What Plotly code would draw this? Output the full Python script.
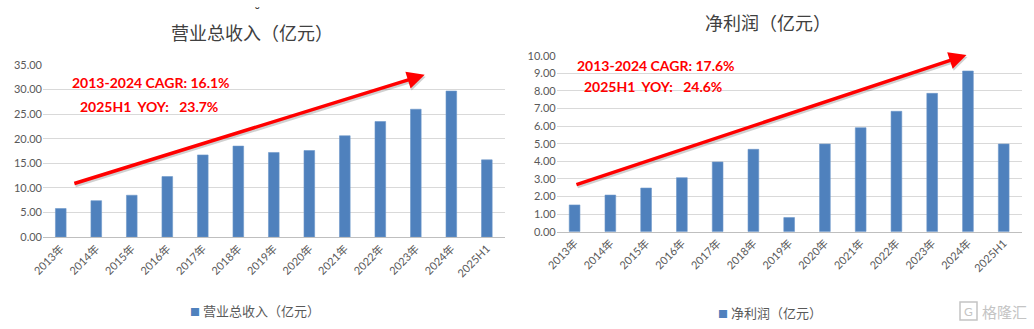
import plotly.graph_objects as go

# ---- data ----
years = ["2013年", "2014年", "2015年", "2016年", "2017年", "2018年", "2019年",
         "2020年", "2021年", "2022年", "2023年", "2024年", "2025H1"]
revenue = [5.8, 7.4, 8.5, 12.3, 16.7, 18.5, 17.2, 17.6, 20.6, 23.5, 26.0, 29.7, 15.7]
net_profit = [1.52, 2.08, 2.48, 3.07, 3.96, 4.68, 0.80, 4.98, 5.91, 6.84, 7.86, 9.13, 4.98]

rev_title = "营业总收入（亿元）"
np_title = "净利润（亿元）"
rev_notes = ["2013-2024 CAGR: 16.1%", "2025H1  YOY:   23.7%"]
np_notes = ["2013-2024 CAGR: 17.6%", "2025H1  YOY:   24.6%"]

BAR = "#4f81bd"
GRID = "#d9d9d9"
TXT = "#595959"
CJK = "Noto Sans CJK SC"
NUM = "Lato, Noto Sans CJK SC"

fig = go.Figure()
fig.add_trace(go.Bar(x=years, y=revenue, marker=dict(color=BAR, line=dict(color="#6d97c9", width=0.6)),
                     xaxis="x", yaxis="y", showlegend=False))
fig.add_trace(go.Bar(x=years, y=net_profit, marker=dict(color=BAR, line=dict(color="#6d97c9", width=0.6)),
                     xaxis="x2", yaxis="y2", showlegend=False))

xcommon = dict(tickangle=-45, tickfont=dict(family=NUM, size=11, color=TXT),
               showgrid=False, showline=True, linecolor="#bfbfbf", linewidth=1,
               ticks="", fixedrange=True, automargin=False)
ycommon = dict(tickformat=".2f", tickfont=dict(family=NUM, size=11, color=TXT),
               showgrid=True, gridcolor=GRID, gridwidth=1, zeroline=False,
               showline=False, ticks="", fixedrange=True, automargin=False)

fig.update_layout(
    width=1034, height=329,
    margin=dict(l=0, r=0, t=0, b=0, autoexpand=False),
    paper_bgcolor="white", plot_bgcolor="white",
    bargap=0.7,
    xaxis=dict(domain=[0.0416, 0.488], anchor="y", **xcommon),
    yaxis=dict(domain=[0.2796, 0.8024], range=[0, 35], dtick=5, anchor="x", **ycommon),
    xaxis2=dict(domain=[0.5384, 0.988], anchor="y2", **xcommon),
    yaxis2=dict(domain=[0.2958, 0.8307], range=[0, 10], dtick=1, anchor="x2", **ycommon),
)

ann = []
# chart titles
ann.append(dict(text=rev_title, x=252, y=329 - 32, xref="paper", yref="paper"))
ann.append(dict(text=np_title, x=768, y=329 - 22, xref="paper", yref="paper"))
for a in ann:
    a.update(x=a["x"] / 1034, y=a["y"] / 329, showarrow=False,
             font=dict(family=CJK, size=18, color="#404040"),
             xanchor="center", yanchor="middle")
ann.append(dict(text="˘", x=257 / 1034, y=(329 - 3) / 329, xref="paper", yref="paper",
                showarrow=False, font=dict(family="DejaVu Sans", size=13, color="#404040"),
                xanchor="center", yanchor="top"))

# red growth arrows with a soft shadow
def arrow(xr, yr, x0, y0, x1, y1):
    out = []
    out.append(dict(x=x1, y=y1, ax=x0, ay=y0, xref=xr, yref=yr, axref=xr, ayref=yr,
                    showarrow=True, arrowhead=2, arrowsize=1.0, arrowwidth=3.5,
                    arrowcolor="rgba(0,0,0,0.18)", text="", xshift=1, yshift=-2))
    out.append(dict(x=x1, y=y1, ax=x0, ay=y0, xref=xr, yref=yr, axref=xr, ayref=yr,
                    showarrow=True, arrowhead=2, arrowsize=1.0, arrowwidth=3.5,
                    arrowcolor="#ff0000", text=""))
    return out

ann += arrow("x", "y", 0.34, 10.8, 10.25, 33.0)
ann += arrow("x2", "y2", 0.01, 2.65, 10.96, 10.04)

# growth notes
def note(text, xc, yc):
    return dict(text="<b>%s</b>" % text, x=xc / 1034, y=(329 - yc) / 329,
                xref="paper", yref="paper", showarrow=False,
                font=dict(family="Lato", size=14, color="#ff0000"),
                xanchor="left", yanchor="middle")

ann.append(note(rev_notes[0], 70, 83))
ann.append(note(rev_notes[1], 78, 106))
ann.append(note(np_notes[0], 575, 65))
ann.append(note(np_notes[1], 582, 87))

# legends
def legend(text, xc, yc):
    return dict(text="<span style='color:%s;font-size:10px'>■</span> %s" % (BAR, text),
                x=xc / 1034, y=(329 - yc) / 329, xref="paper", yref="paper",
                showarrow=False, font=dict(family=CJK, size=13, color=TXT),
                xanchor="center", yanchor="middle")

ann.append(legend(rev_title, 255, 310))
ann.append(legend(np_title, 770, 312))

# watermark
ann.append(dict(text="格隆汇", x=1004 / 1034, y=(329 - 311) / 329, xref="paper", yref="paper",
                showarrow=False, font=dict(family=CJK, size=15, color="#c4c4c4"),
                xanchor="center", yanchor="middle"))
ann.append(dict(text="G", x=968.5 / 1034, y=(329 - 311) / 329, xref="paper", yref="paper",
                showarrow=False, font=dict(family="Lato", size=12, color="#c4c4c4"),
                xanchor="center", yanchor="middle"))

fig.update_layout(annotations=ann)
fig.add_shape(type="rect", xref="paper", yref="paper",
              x0=960 / 1034, x1=977 / 1034, y0=(329 - 320) / 329, y1=(329 - 302) / 329,
              line=dict(color="#c4c4c4", width=1.5))

fig.write_html("out.html")
